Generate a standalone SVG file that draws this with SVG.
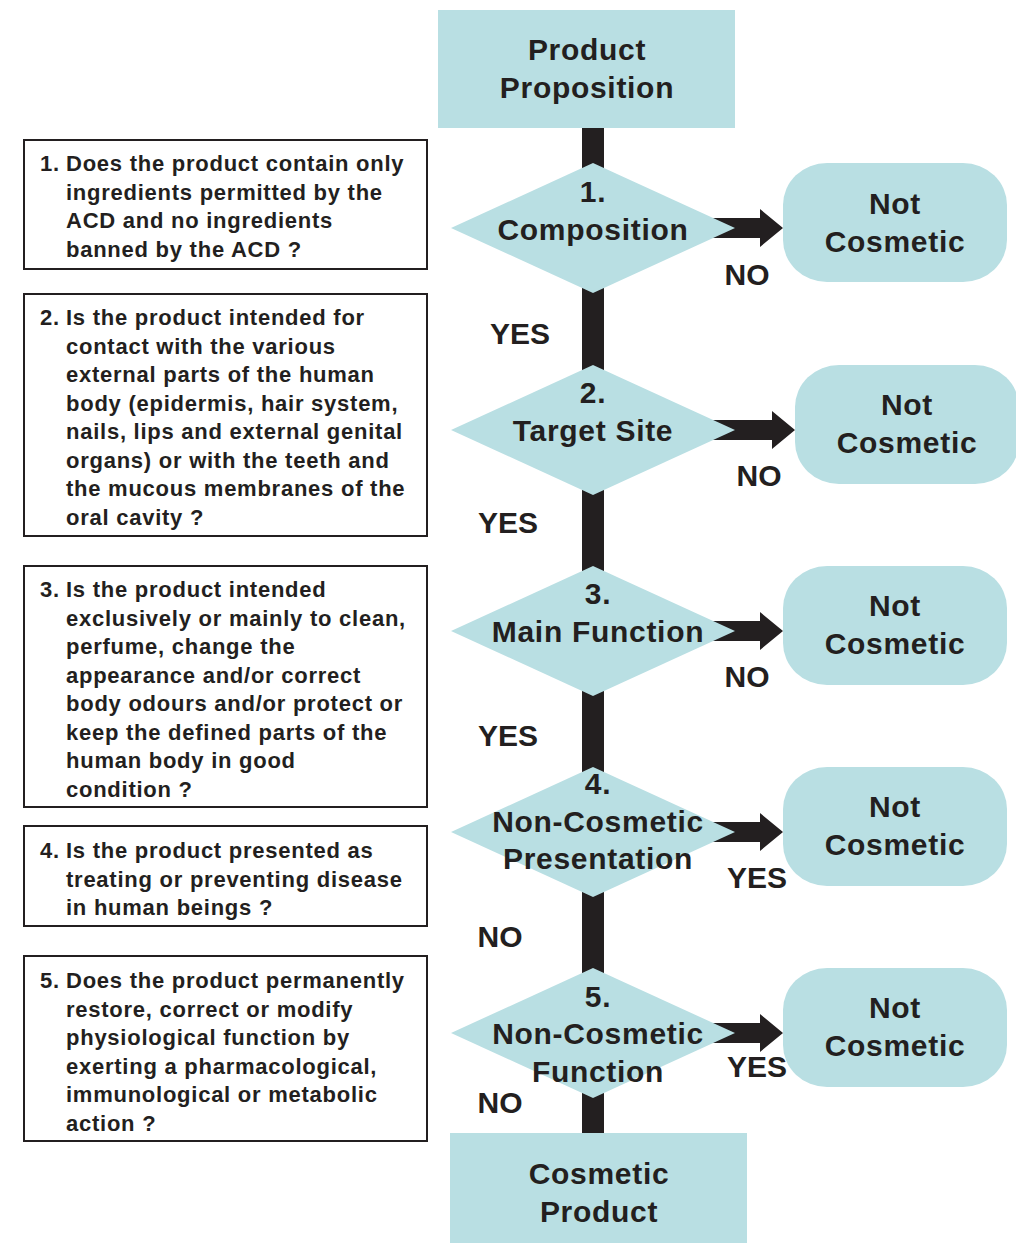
<svg xmlns="http://www.w3.org/2000/svg" width="1016" height="1243" viewBox="0 0 1016 1243">
<style>
.fill{fill:#b9dfe3}
.q{fill:#fff;stroke:#231f20;stroke-width:2}
.t{font-family:"Liberation Sans",Arial,sans-serif;font-weight:bold;fill:#231f20}
.big{font-size:30px;letter-spacing:0.7px;text-anchor:middle}
.lab{font-size:30px;text-anchor:middle}
.sm{font-size:22px;letter-spacing:0.75px}
.dark{fill:#231f20}
</style>
<rect width="1016" height="1243" fill="#fff"/>
<g id="connectors">
<rect class="dark" x="582" y="126" width="22" height="1010"/>
<path class="dark" d="M713,218 H760 V209 L783,228 L760,247 V238 H713 Z"/>
<path class="dark" d="M713,420 H772 V411 L795,430 L772,449 V440 H713 Z"/>
<path class="dark" d="M713,621 H760 V612 L783,631 L760,650 V641 H713 Z"/>
<path class="dark" d="M713,822 H760 V813 L783,832 L760,851 V842 H713 Z"/>
<path class="dark" d="M713,1023 H760 V1014 L783,1033 L760,1052 V1043 H713 Z"/>
<text class="t lab" x="747" y="285">NO</text>
<text class="t lab" x="759" y="486">NO</text>
<text class="t lab" x="747" y="687">NO</text>
<text class="t lab" x="757" y="888">YES</text>
<text class="t lab" x="757" y="1077">YES</text>
<text class="t lab" x="520" y="344">YES</text>
<text class="t lab" x="508" y="533">YES</text>
<text class="t lab" x="508" y="746">YES</text>
<text class="t lab" x="500" y="947">NO</text>
<text class="t lab" x="500" y="1113">NO</text>
</g>
<g id="start">
<rect class="fill" x="438" y="10" width="297" height="118"/>
<text class="t big" x="587" y="60">Product</text>
<text class="t big" x="587" y="98">Proposition</text>
</g>
<g id="d1">
<polygon class="fill" points="593,163 735,228 593,293 451,228"/>
<text class="t big" x="593" y="202">1.</text>
<text class="t big" x="593" y="240">Composition</text>
</g>
<g id="d2">
<polygon class="fill" points="593,365 735,430 593,495 451,430"/>
<text class="t big" x="593" y="403">2.</text>
<text class="t big" x="593" y="441">Target Site</text>
</g>
<g id="d3">
<polygon class="fill" points="593,566 735,631 593,696 451,631"/>
<text class="t big" x="598" y="604">3.</text>
<text class="t big" x="598" y="642">Main Function</text>
</g>
<g id="d4">
<polygon class="fill" points="593,767 735,832 593,897 451,832"/>
<text class="t big" x="598" y="794">4.</text>
<text class="t big" x="598" y="832">Non-Cosmetic</text>
<text class="t big" x="598" y="869">Presentation</text>
</g>
<g id="d5">
<polygon class="fill" points="593,968 735,1033 593,1098 451,1033"/>
<text class="t big" x="598" y="1007">5.</text>
<text class="t big" x="598" y="1044">Non-Cosmetic</text>
<text class="t big" x="598" y="1082">Function</text>
</g>
<g id="end">
<rect class="fill" x="450" y="1133" width="297" height="112"/>
<text class="t big" x="599" y="1184">Cosmetic</text>
<text class="t big" x="599" y="1222">Product</text>
</g>
<g id="nc1">
<rect class="fill" x="783" y="163" width="224" height="119" rx="44" ry="42"/>
<text class="t big" x="895" y="214">Not</text>
<text class="t big" x="895" y="252">Cosmetic</text>
</g>
<g id="nc2">
<rect class="fill" x="795" y="365" width="224" height="119" rx="44" ry="42"/>
<text class="t big" x="907" y="415">Not</text>
<text class="t big" x="907" y="453">Cosmetic</text>
</g>
<g id="nc3">
<rect class="fill" x="783" y="566" width="224" height="119" rx="44" ry="42"/>
<text class="t big" x="895" y="616">Not</text>
<text class="t big" x="895" y="654">Cosmetic</text>
</g>
<g id="nc4">
<rect class="fill" x="783" y="767" width="224" height="119" rx="44" ry="42"/>
<text class="t big" x="895" y="817">Not</text>
<text class="t big" x="895" y="855">Cosmetic</text>
</g>
<g id="nc5">
<rect class="fill" x="783" y="968" width="224" height="119" rx="44" ry="42"/>
<text class="t big" x="895" y="1018">Not</text>
<text class="t big" x="895" y="1056">Cosmetic</text>
</g>
<g id="q1">
<rect class="q" x="24" y="140" width="403" height="129"/>
<text class="t sm" x="40" y="171">1.</text>
<text class="t sm"><tspan x="66" y="171">Does the product contain only</tspan><tspan x="66" y="199.5">ingredients permitted by the</tspan><tspan x="66" y="228">ACD and no ingredients</tspan><tspan x="66" y="256.5">banned by the ACD ?</tspan></text>
</g>
<g id="q2">
<rect class="q" x="24" y="294" width="403" height="242"/>
<text class="t sm" x="40" y="325">2.</text>
<text class="t sm"><tspan x="66" y="325">Is the product intended for</tspan><tspan x="66" y="353.5">contact with the various</tspan><tspan x="66" y="382">external parts of the human</tspan><tspan x="66" y="410.5">body (epidermis, hair system,</tspan><tspan x="66" y="439">nails, lips and external genital</tspan><tspan x="66" y="467.5">organs) or with the teeth and</tspan><tspan x="66" y="496">the mucous membranes of the</tspan><tspan x="66" y="524.5">oral cavity ?</tspan></text>
</g>
<g id="q3">
<rect class="q" x="24" y="566" width="403" height="241"/>
<text class="t sm" x="40" y="597">3.</text>
<text class="t sm"><tspan x="66" y="597">Is the product intended</tspan><tspan x="66" y="625.5">exclusively or mainly to clean,</tspan><tspan x="66" y="654">perfume, change the</tspan><tspan x="66" y="682.5">appearance and/or correct</tspan><tspan x="66" y="711">body odours and/or protect or</tspan><tspan x="66" y="739.5">keep the defined parts of the</tspan><tspan x="66" y="768">human body in good</tspan><tspan x="66" y="796.5">condition ?</tspan></text>
</g>
<g id="q4">
<rect class="q" x="24" y="826" width="403" height="100"/>
<text class="t sm" x="40" y="858">4.</text>
<text class="t sm"><tspan x="66" y="858">Is the product presented as</tspan><tspan x="66" y="886.5">treating or preventing disease</tspan><tspan x="66" y="915">in human beings ?</tspan></text>
</g>
<g id="q5">
<rect class="q" x="24" y="956" width="403" height="185"/>
<text class="t sm" x="40" y="988">5.</text>
<text class="t sm"><tspan x="66" y="988">Does the product permanently</tspan><tspan x="66" y="1016.5">restore, correct or modify</tspan><tspan x="66" y="1045">physiological function by</tspan><tspan x="66" y="1073.5">exerting a pharmacological,</tspan><tspan x="66" y="1102">immunological or metabolic</tspan><tspan x="66" y="1130.5">action ?</tspan></text>
</g>
</svg>
